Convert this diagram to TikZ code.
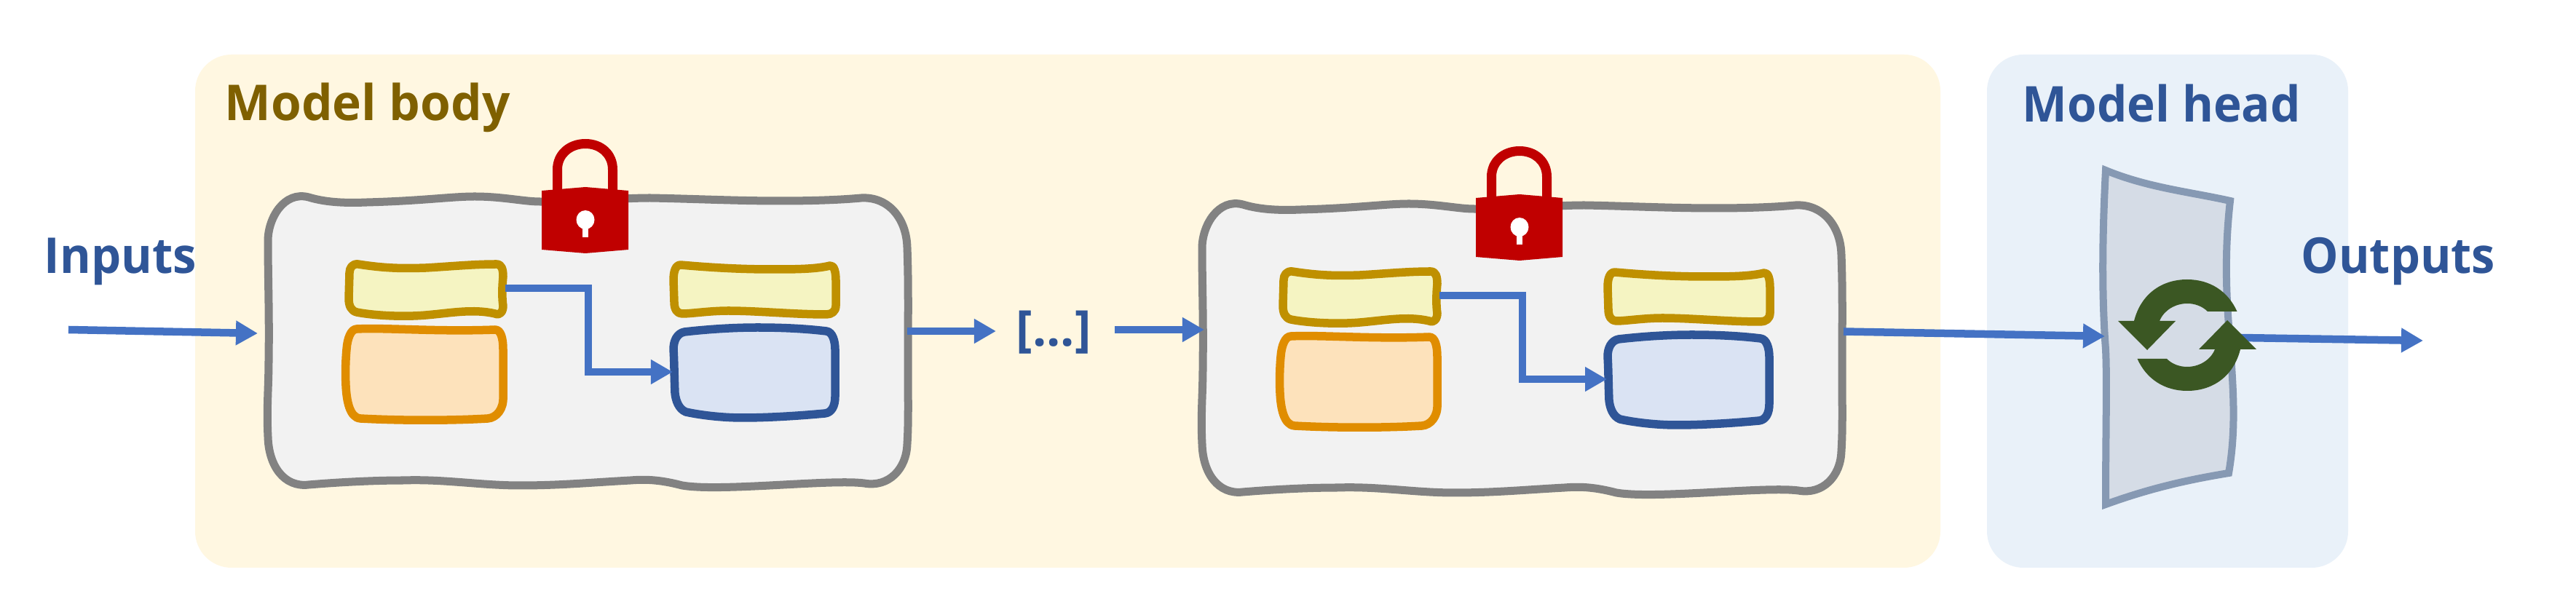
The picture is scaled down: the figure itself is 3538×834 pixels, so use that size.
\documentclass[tikz,border=0pt]{standalone}
\usepackage{fontspec}
\usepackage{graphicx}
\setmainfont{Open Sans}
\usetikzlibrary{arrows.meta}
\definecolor{bodybg}{HTML}{FFF7E1}
\definecolor{headbg}{HTML}{E9F1F9}
\definecolor{bodytxt}{HTML}{7F6000}
\definecolor{headtxt}{HTML}{2F5597}
\definecolor{arrowblue}{HTML}{4472C4}
\definecolor{lockred}{HTML}{C00000}
\definecolor{iconGreen}{HTML}{3B5723}
\tikzset{
  panel/.style={rounded corners=0.5cm,draw=none},
  blockbox/.style={draw={rgb,255:red,130;green,130;blue,130},fill={rgb,255:red,242;green,242;blue,242},line width=1.1mm,line join=round},
  yellowbox/.style={draw={rgb,255:red,191;green,144;blue,0},fill={rgb,255:red,245;green,244;blue,194},line width=1.15mm,line join=round},
  orangebox/.style={draw={rgb,255:red,224;green,141;blue,0},fill={rgb,255:red,253;green,226;blue,187},line width=1.15mm,line join=round},
  bluebox/.style={draw=headtxt,fill={rgb,255:red,218;green,227;blue,243},line width=1.15mm,line join=round},
  conn/.style={draw=arrowblue,line width=1.05mm,-{Triangle[length=3mm,width=3.2mm]},shorten >=0pt},
  label/.style={font=\fontsize{19.3pt}{23pt}\selectfont\bfseries,anchor=base west,inner sep=0pt},
  lockpart/.style={fill=lockred,draw=none},
  iconpart/.style={fill=iconGreen,draw=none},
}
% one block: grey outline, four coloured boxes, lock, inner connector
\newcommand{\modelblock}[1]{%
  \path[blockbox] (424,271) .. controls (450,279) and (480,279) .. (504,278)
    .. controls (580,276) and (620,270) .. (652,270) .. controls (690,270) and (720,277) .. (741,277)
    .. controls (790,278) and (850,272) .. (893,272) .. controls (950,273) and (1010,276) .. (1071,276)
    .. controls (1110,276) and (1150,275) .. (1183,272) .. controls (1220,270) and (1245,300) .. (1246,340)
    .. controls (1248,390) and (1247,450) .. (1247,496) .. controls (1247,540) and (1248,580) .. (1246,610)
    .. controls (1245,645) and (1220,670) .. (1187,664) .. controls (1140,658) and (990,676) .. (937,667)
    .. controls (910,660) and (890,658) .. (866,660) .. controls (810,663) and (770,667) .. (714,667)
    .. controls (660,667) and (610,658) .. (554,660) .. controls (510,660) and (460,663) .. (424,666)
    .. controls (390,670) and (369,640) .. (368,600) .. controls (366,560) and (369,530) .. (369,496)
    .. controls (370,430) and (368,380) .. (368,331) .. controls (368,300) and (390,262) .. (424,271) -- cycle;
  \path[yellowbox] (492,363) .. controls (530,369) and (555,369) .. (585,368) .. controls (620,366) and (650,363) .. (682,363)
    .. controls (689,363) and (691,370) .. (691,380) .. controls (689,400) and (690,415) .. (691,420)
    .. controls (691,428) and (687,434) .. (680,431) .. controls (650,424) and (620,430) .. (585,433)
    .. controls (550,436) and (510,433) .. (490,429) .. controls (482,427) and (479,420) .. (479,410)
    -- (480,375) .. controls (480,368) and (484,362) .. (492,363) -- cycle;
  \path[yellowbox] (935,364) .. controls (980,368) and (1020,370) .. (1060,370) .. controls (1090,370) and (1120,370) .. (1140,365)
    .. controls (1146,364) and (1148,375) .. (1148,385) -- (1148,420) .. controls (1148,428) and (1142,432) .. (1135,432)
    .. controls (1090,432) and (1040,427) .. (1000,427) .. controls (975,427) and (950,431) .. (937,431)
    .. controls (930,431) and (926,425) .. (926,415) -- (925,385) .. controls (925,372) and (928,364) .. (935,364) -- cycle;
  \path[orangebox] (490,452) .. controls (530,450) and (600,456) .. (680,453) .. controls (688,453) and (691,465) .. (691,480)
    -- (691,545) .. controls (692,562) and (682,574) .. (670,575) .. controls (620,578) and (550,578) .. (495,575)
    .. controls (480,574) and (476,550) .. (475,530) .. controls (474,510) and (475,490) .. (476,480)
    .. controls (477,465) and (482,452) .. (490,452) -- cycle;
  \path[bluebox] (940,456) .. controls (975,452) and (1010,450) .. (1040,450) .. controls (1080,450) and (1110,452) .. (1135,455)
    .. controls (1144,456) and (1147,470) .. (1147,480) -- (1147,545) .. controls (1147,558) and (1142,567) .. (1133,568)
    .. controls (1090,572) and (1050,574) .. (1020,574) .. controls (990,574) and (960,570) .. (942,566)
    .. controls (932,562) and (928,550) .. (927,540) .. controls (926,515) and (926,495) .. (925,480)
    .. controls (925,468) and (930,458) .. (940,456) -- cycle;
  % lock
  \path[lockpart] (759,262) -- (759,233) .. controls (759,208) and (779,191) .. (804,191) .. controls (829,191) and (848,208) .. (848,233) -- (848,262) -- (835,262) -- (835,233) .. controls (835,215) and (821,204) .. (804,204) .. controls (787,204) and (772,215) .. (772,233) -- (772,262) -- cycle;
  \path[lockpart] (744,262) -- (804,257) -- (863,262) -- (863,343) -- (804,348) -- (744,343) -- cycle;
  \fill[white] (804,302) ellipse [x radius=12.5,y radius=13];
  \fill[white] (800,305) rectangle (808,326);
  % inner connector
  \coordinate (#1yout) at (694,396);
  \coordinate (#1bin) at (924,511);
  \coordinate (#1mid) at (808,396);
  \draw[conn] (#1yout) -- (#1mid) -- (#1mid |- #1bin) -- (#1bin);
}
\begin{document}
\begin{tikzpicture}[x=0.01cm,y=-0.01cm]
\useasboundingbox (0,0) rectangle (3538,834);
\fill[white] (0,0) rectangle (3538,834);
\path[panel,fill=bodybg] (268,75) rectangle (2665,780);
\path[panel,fill=headbg] (2729,75) rectangle (3225,780);

\node[label,text=bodytxt] (bodylabel) at (308,166) {\scalebox{0.995}[1]{Model body}};
\node[label,text=headtxt] (headlabel) at (2777,168) {\scalebox{0.965}[1]{Model head}};
\node[label,text=headtxt] (inlabel) at (60,376) {\scalebox{0.96}[1]{Inputs}};
\node[label,text=headtxt] (outlabel) at (3160,376) {\scalebox{0.955}[1]{Outputs}};
\node[label,text=headtxt] (dots) at (1395,476) {[...]};

\begin{scope}\modelblock{a}\end{scope}
\begin{scope}[shift={(1283,10)}]\modelblock{b}\end{scope}

% model head shape
\path[draw={rgb,255:red,134;green,153;blue,179},fill={rgb,255:red,213;green,220;blue,230},line width=1mm,miter limit=10]
  (2892,234) .. controls (2950,258) and (3010,264) .. (3063,276)
  .. controls (3058,320) and (3056,370) .. (3060,433)
  .. controls (3066,520) and (3073,580) .. (3061,650)
  .. controls (3000,660) and (2950,672) .. (2892,693)
  .. controls (2892,600) and (2894,520) .. (2892,480)
  .. controls (2886,400) and (2888,310) .. (2892,234) -- cycle;

% connectors
\coordinate (instart) at (94,453);
\coordinate (ablockin) at (354,458);
\coordinate (ablockout) at (1246,455);
\coordinate (dotsin) at (1368,455);
\coordinate (dotsout) at (1531,453);
\coordinate (bblockin) at (1654,453);
\coordinate (bblockout) at (2532,455.5);
\coordinate (headin) at (2891,462);
\coordinate (headout) at (3078,464);
\coordinate (outend) at (3328,468);
\draw[conn] (instart) -- (ablockin);
\draw[conn] (ablockout) -- (dotsin);
\draw[conn] (dotsout) -- (bblockin);
\draw[conn] (bblockout) -- (headin);
\draw[conn] (headout) -- (outend);

% refresh icon
\path[iconpart] (3072.5,428) .. controls (3060,400) and (3035,384) .. (3004,384)
  .. controls (2968,384) and (2940,405) .. (2931,441) -- (2909,441) -- (2949,481) -- (2988,441) -- (2966,441)
  .. controls (2972,426) and (2988,417) .. (3004,417) .. controls (3015,417) and (3025,421) .. (3032,428) -- cycle;
\begin{scope}[rotate around={180:(3004,460.5)}]
\path[iconpart] (3072.5,428) .. controls (3060,400) and (3035,384) .. (3004,384)
  .. controls (2968,384) and (2940,405) .. (2931,441) -- (2909,441) -- (2949,481) -- (2988,441) -- (2966,441)
  .. controls (2972,426) and (2988,417) .. (3004,417) .. controls (3015,417) and (3025,421) .. (3032,428) -- cycle;
\end{scope}
\end{tikzpicture}
\end{document}
